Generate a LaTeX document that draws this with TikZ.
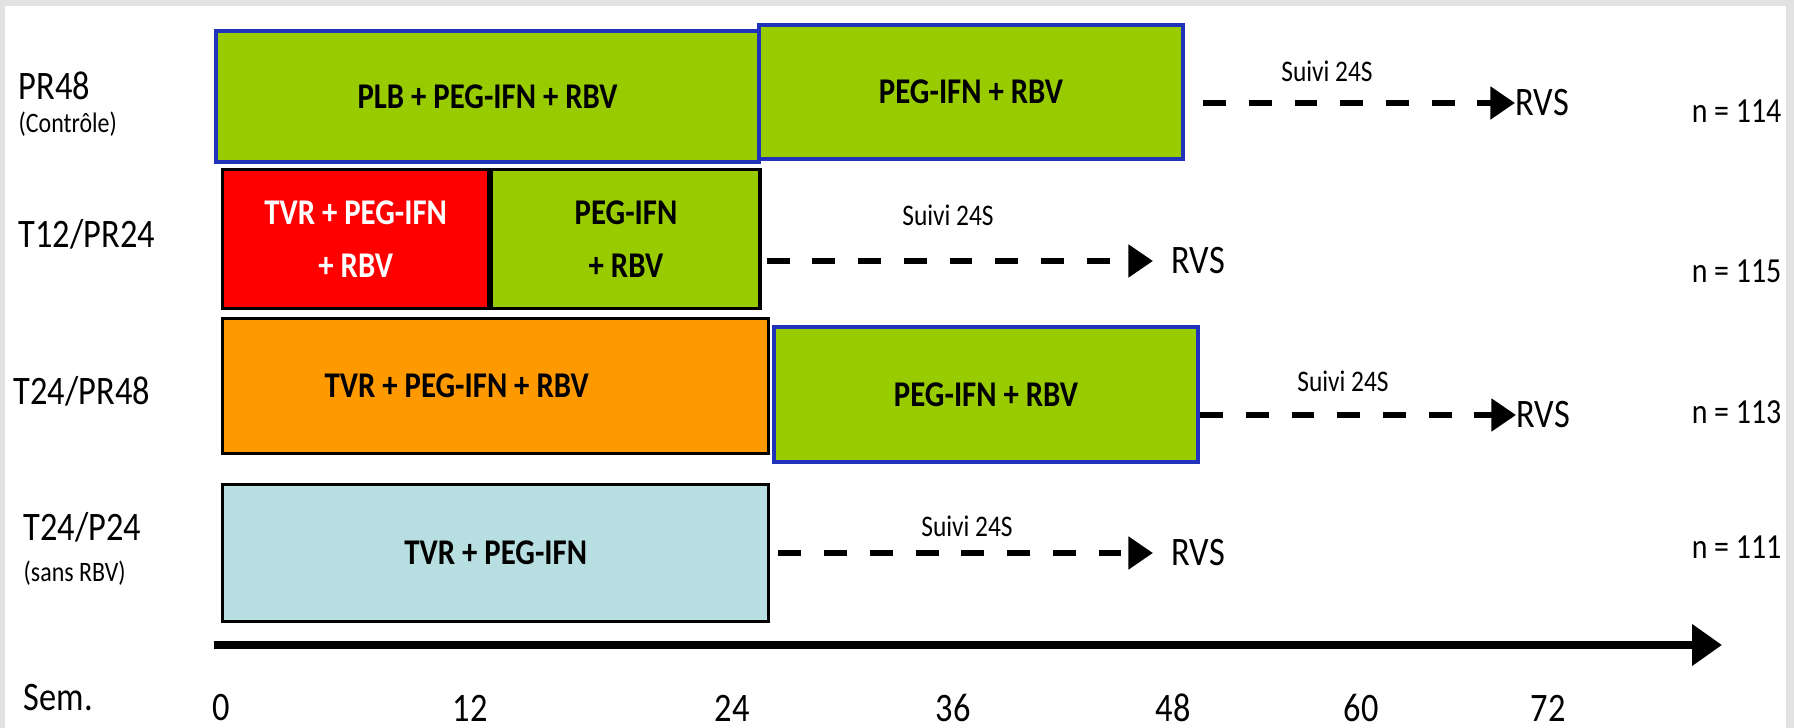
\documentclass[tikz,border=0pt]{standalone}
\usepackage{fontspec}
\setmainfont[FakeStretch=0.85]{Carlito}
\usepackage{tikz}
\usetikzlibrary{arrows.meta, positioning}

\definecolor{vertpr}{HTML}{99CC00}
\definecolor{rougetvr}{HTML}{FF0000}
\definecolor{orangetvr}{HTML}{FF9900}
\definecolor{bleuclair}{HTML}{B7DEE1}
\definecolor{bordbleu}{HTML}{2233BB}
\definecolor{cadre}{HTML}{E2E2E2}

\begin{document}
\begin{tikzpicture}[x=0.01cm, y=-0.01cm,
  bras/.style={anchor=north west, inner sep=0pt, line width=0.9pt, align=center,
               font=\fontsize{10.3}{15.3}\selectfont\bfseries},
  vert/.style={bras, fill=vertpr, draw=black},
  vertbleu/.style={bras, fill=vertpr, draw=bordbleu, line width=1.1pt},
  groupe/.style={anchor=west, inner sep=0pt, font=\fontsize{11.5}{13}\selectfont},
  sousgroupe/.style={anchor=west, inner sep=0pt, font=\fontsize{8}{10}\selectfont},
  suivilbl/.style={inner sep=0pt, font=\fontsize{8.5}{10}\selectfont},
  rvs/.style={anchor=west, inner sep=0pt, font=\fontsize{11.5}{13}\selectfont},
  effectif/.style={anchor=east, inner sep=0pt, font=\fontsize{10}{12}\selectfont},
  fleche/.style={line width=1.8pt, dash pattern=on 6.5pt off 6.5pt,
                 -{Triangle[length=7pt, width=9pt]}},
  axe/.style={line width=2.4pt, -{Triangle[length=0.3cm, width=0.4cm]}}]

\useasboundingbox (0,0) rectangle (1794,728);
\fill[cadre] (0,0) rectangle (1794,728);
\fill[white] (5,6) rectangle (1786,728);

% Bras PR48 (controle)
\node[groupe] (g1) at (18,86) {PR48};
\node[sousgroupe] (g1b) at (18,124) {(Contrôle)};
\node[vertbleu, minimum width=5.43cm, minimum height=1.31cm] (plb) at (214,29) {PLB + PEG-IFN + RBV};
\node[vertbleu, minimum width=4.24cm, minimum height=1.34cm] (pr1) at (757,23) {PEG-IFN + RBV};
\node[rvs] (rvs1) at (1515,103) {RVS};
\draw[fleche] ([xshift=0.18cm]pr1.east |- rvs1.west) -- (rvs1.west);
\node[suivilbl] (s1) at (1327,71) {Suivi 24S};
\node[effectif] (n1) at (1782,111) {n = 114};

% Bras T12/PR24
\node[groupe] (g2) at (18,234) {T12/PR24};
\node[bras, fill=rougetvr, draw=black, text=white, minimum width=2.66cm, minimum height=1.39cm] (tvr12) at (221,168) {TVR + PEG-IFN\\+ RBV};
\node[vert, right=0pt of tvr12, minimum width=2.68cm, minimum height=1.39cm] (pr2) {PEG-IFN\\+ RBV};
\node[rvs] (rvs2) at (1171,261) {RVS};
\draw[fleche] ([xshift=0.05cm]pr2.east |- rvs2.west) -- ([xshift=-0.18cm]rvs2.west);
\node[suivilbl] (s2) at (948,215) {Suivi 24S};
\node[effectif] (n2) at (1782,271) {n = 115};

% Bras T24/PR48
\node[groupe] (g3) at (13,391) {T24/PR48};
\node[bras, fill=orangetvr, draw=black, minimum width=5.46cm, minimum height=1.35cm] (tvr24) at (221,317) {TVR + PEG-IFN + RBV\hspace{0.78cm}};
\node[vertbleu, minimum width=4.24cm, minimum height=1.35cm] (pr3) at (772,325) {PEG-IFN + RBV};
\node[rvs] (rvs3) at (1516,415) {RVS};
\draw[fleche] (pr3.east |- rvs3.west) -- (rvs3.west);
\node[suivilbl] (s3) at (1343,381) {Suivi 24S};
\node[effectif] (n3) at (1782,412) {n = 113};

% Bras T24/P24 (sans RBV)
\node[groupe] (g4) at (23,527) {T24/P24};
\node[sousgroupe] (g4b) at (23,573) {(sans RBV)};
\node[bras, fill=bleuclair, draw=black, minimum width=5.46cm, minimum height=1.37cm] (tp24) at (221,483) {TVR + PEG-IFN};
\node[rvs] (rvs4) at (1171,553) {RVS};
\draw[fleche] ([xshift=0.08cm]tp24.east |- rvs4.west) -- ([xshift=-0.18cm]rvs4.west);
\node[suivilbl] (s4) at (967,526) {Suivi 24S};
\node[effectif] (n4) at (1782,547) {n = 111};

% Axe des semaines
\coordinate (a0) at (214,645);
\coordinate (a1) at (1722,645);
\draw[axe] (a0) -- (a1);
\node[groupe] (sem) at (23,698) {Sem.};
\foreach \wk/\xx in {0/221, 12/470, 24/732, 36/953, 48/1173, 60/1361, 72/1548}
  \node[font=\fontsize{11.5}{13}\selectfont, inner sep=0pt] (w\wk) at (\xx,708) {\wk};

\end{tikzpicture}
\end{document}
